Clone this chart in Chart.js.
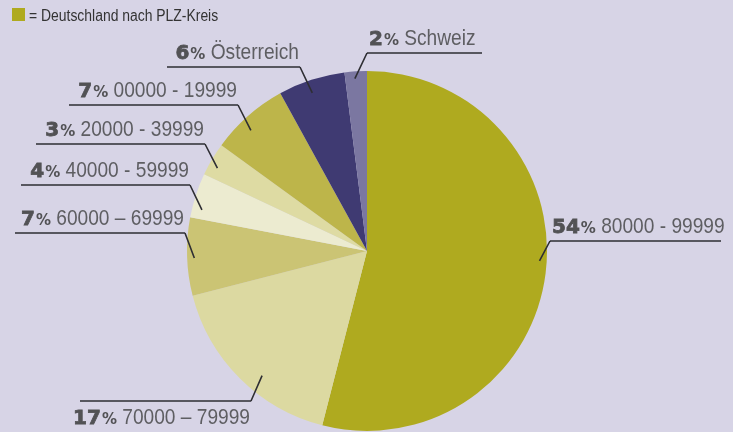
<!DOCTYPE html>
<html lang="de">
<head>
<meta charset="utf-8">
<script src="https://cdn.jsdelivr.net/npm/chart.js@4.4.0/dist/chart.umd.min.js"></script>
<style>
  html, body { margin: 0; padding: 0; background: #d7d4e6; }
  #wrap { width: 733px; height: 432px; position: relative; }
</style>
</head>
<body>
<div id="wrap"><canvas id="pieChart" width="733" height="432"></canvas></div>
<script>
// Daten
const categories = ["80000 - 99999", "70000 – 79999", "60000 – 69999", "40000 - 59999",
                    "20000 - 39999", "00000 - 19999", "Österreich", "Schweiz"];
const shares = [54, 17, 7, 4, 3, 7, 6, 2];
const sliceColors = ["#afaa1f", "#dcd9a1", "#cbc474", "#ecebd0",
                     "#dedba3", "#bdb54a", "#3f3a72", "#7b77a1"];
const legendText = "= Deutschland nach PLZ-Kreis";

// Position der Beschriftungen (Linie unter dem Text), f = Stelle im Segment
const labelLayout = [
  { side: "right", lineY: 241, x0: 550, x1: 721, below: false, r: 0.96, f: 0.48 },
  { side: "left",  lineY: 401, x0: 80,  x1: 251, below: true,  r: 0.905, f: 0.42 },
  { side: "left",  lineY: 233, x0: 15,  x1: 185, below: false, r: 0.96, f: 0.48 },
  { side: "left",  lineY: 185, x0: 21,  x1: 190, below: false, r: 0.945, f: 0.22 },
  { side: "left",  lineY: 144, x0: 36,  x1: 205, below: false, r: 0.95, f: 0.35 },
  { side: "left",  lineY: 105, x0: 69,  x1: 238, below: false, r: 0.93, f: 0.40 },
  { side: "left",  lineY: 67,  x0: 167, x1: 300, below: false, r: 0.93, f: 0.45 },
  { side: "right", lineY: 53,  x0: 367, x1: 482, below: false, r: 0.96, f: 0.44 }
];

const numFont = "bold 20px 'DejaVu Sans', sans-serif";
const pctFont = "bold 15px 'DejaVu Sans', sans-serif";
const txtFont = "22px 'Liberation Sans', Arial, sans-serif";
const squeeze = 0.87; // schmale Schrift nachbilden

const labelPlugin = {
  id: "leaderLabels",
  afterDatasetsDraw(chart) {
    const ctx = chart.ctx;
    const arcs = chart.getDatasetMeta(0).data;
    ctx.save();

    // Legende oben links
    ctx.fillStyle = sliceColors[0];
    ctx.fillRect(12, 8, 13, 13);
    ctx.fillStyle = "#333";
    ctx.font = "16px 'Liberation Sans', Arial, sans-serif";
    ctx.textBaseline = "alphabetic";
    ctx.save();
    ctx.translate(29, 21);
    ctx.scale(squeeze, 1);
    ctx.fillText(legendText, 0, 0);
    ctx.restore();

    arcs.forEach((arc, i) => {
      const lay = labelLayout[i];
      const ang = arc.startAngle + (arc.endAngle - arc.startAngle) * lay.f;
      const ax = arc.x + Math.cos(ang) * arc.outerRadius * lay.r;
      const ay = arc.y + Math.sin(ang) * arc.outerRadius * lay.r;
      const attachX = lay.side === "left" ? lay.x1 : lay.x0;

      // Linie
      ctx.strokeStyle = "#2e2e33";
      ctx.lineWidth = 1.6;
      ctx.beginPath();
      ctx.moveTo(lay.x0, lay.lineY);
      ctx.lineTo(lay.x1, lay.lineY);
      ctx.moveTo(attachX, lay.lineY);
      ctx.lineTo(ax, ay);
      ctx.stroke();

      // Text
      const num = String(shares[i]);
      ctx.font = numFont;
      const wNum = ctx.measureText(num).width;
      ctx.font = pctFont;
      const wPct = ctx.measureText("%").width;
      ctx.font = txtFont;
      const txt = " " + categories[i];
      const wTxt = ctx.measureText(txt).width * squeeze;
      const total = wNum + 1 + wPct + wTxt;
      let x = lay.side === "left" ? lay.x1 - total - 1 : lay.x0 + 2;
      const base = lay.below ? lay.lineY + 23 : lay.lineY - 8;

      // fette Zahl, etwas kräftiger
      ctx.fillStyle = "#525255";
      ctx.strokeStyle = "#525255";
      ctx.lineWidth = 0.8;
      ctx.font = numFont;
      ctx.fillText(num, x, base);
      ctx.strokeText(num, x, base);
      x += wNum + 1;
      ctx.font = pctFont;
      ctx.fillText("%", x, base);
      x += wPct;
      ctx.fillStyle = "#5e5e62";
      ctx.font = txtFont;
      ctx.save();
      ctx.translate(x, base);
      ctx.scale(squeeze, 1);
      ctx.fillText(txt, 0, 0);
      ctx.restore();
    });
    ctx.restore();
  }
};

new Chart(document.getElementById("pieChart"), {
  type: "pie",
  data: {
    labels: categories,
    datasets: [{
      data: shares,
      backgroundColor: sliceColors,
      borderWidth: 0
    }]
  },
  options: {
    responsive: false,
    animation: false,
    layout: { padding: { top: 71, bottom: 1, left: 1, right: 0 } },
    plugins: {
      legend: { display: false },
      tooltip: { enabled: false }
    }
  },
  plugins: [labelPlugin]
});
</script>
</body>
</html>
